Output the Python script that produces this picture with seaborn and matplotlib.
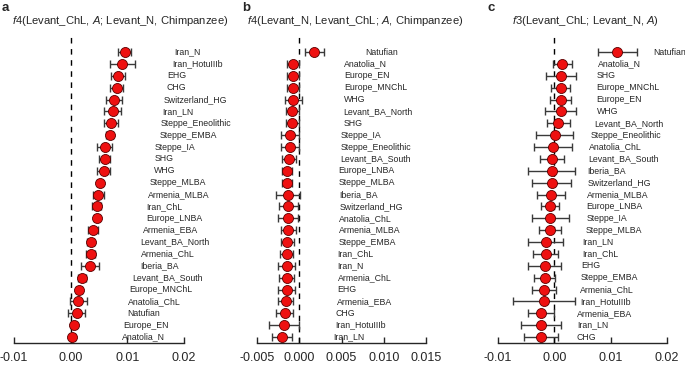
"""Three-panel f-statistics dot plot (Levant_ChL / Levant_N comparisons)."""

import matplotlib

matplotlib.use("Agg")
import matplotlib.pyplot as plt
import pandas as pd
import seaborn as sns

# ---- panel a: f4(Levant_ChL, A; Levant_N, Chimpanzee) ----
a_pops = [
    "Iran_N", "Iran_HotuIIIb", "EHG", "CHG", "Switzerland_HG", "Iran_LN",
    "Steppe_Eneolithic", "Steppe_EMBA", "Steppe_IA", "SHG", "WHG", "Steppe_MLBA",
    "Armenia_MLBA", "Iran_ChL", "Europe_LNBA", "Armenia_EBA", "Levant_BA_North",
    "Armenia_ChL", "Iberia_BA", "Levant_BA_South", "Europe_MNChL", "Anatolia_ChL",
    "Natufian", "Europe_EN", "Anatolia_N",
]
a_vals = [
    0.0095, 0.0091, 0.0083, 0.0081, 0.0076, 0.0074, 0.0071, 0.0069, 0.0060,
    0.0060, 0.0058, 0.0051, 0.0049, 0.0046, 0.0046, 0.0040, 0.0035, 0.0035,
    0.0034, 0.0020, 0.0015, 0.0013, 0.0011, 0.0005, 0.0003,
]
a_errs = [
    0.0012, 0.0022, 0.0012, 0.0011, 0.0014, 0.0015, 0.0012, 0.0006, 0.0013,
    0.0010, 0.0011, 0.0004, 0.0009, 0.0008, 0.0004, 0.0009, 0.0007, 0.0008,
    0.0016, 0.0007, 0.0005, 0.0015, 0.0015, 0.0005, 0.0005,
]

# ---- panel b: f4(Levant_N, Levant_ChL; A, Chimpanzee) ----
b_pops = [
    "Natufian", "Anatolia_N", "Europe_EN", "Europe_MNChL", "WHG",
    "Levant_BA_North", "SHG", "Steppe_IA", "Steppe_Eneolithic", "Levant_BA_South",
    "Europe_LNBA", "Steppe_MLBA", "Iberia_BA", "Switzerland_HG", "Anatolia_ChL",
    "Armenia_MLBA", "Steppe_EMBA", "Iran_ChL", "Iran_N", "Armenia_ChL", "EHG",
    "Armenia_EBA", "CHG", "Iran_HotuIIIb", "Iran_LN",
]
b_vals = [
    0.0018, -0.0007, -0.0007, -0.0007, -0.0007, -0.0008, -0.0008, -0.0011,
    -0.0011, -0.0012, -0.0014, -0.0014, -0.0013, -0.0013, -0.0013, -0.0013,
    -0.0014, -0.0015, -0.0015, -0.0015, -0.0015, -0.0016, -0.0017, -0.0018,
    -0.0020,
]
b_errs = [
    0.0011, 0.0007, 0.0007, 0.0007, 0.0010, 0.0008, 0.0008, 0.0011, 0.0011,
    0.0008, 0.0006, 0.0006, 0.0014, 0.0011, 0.0012, 0.0009, 0.0008, 0.0008,
    0.0010, 0.0009, 0.0010, 0.0009, 0.0010, 0.0018, 0.0012,
]

# ---- panel c: f3(Levant_ChL; Levant_N, A) ----
c_pops = [
    "Natufian", "Anatolia_N", "SHG", "Europe_MNChL", "Europe_EN", "WHG",
    "Levant_BA_North", "Steppe_Eneolithic", "Anatolia_ChL", "Levant_BA_South",
    "Iberia_BA", "Switzerland_HG", "Armenia_MLBA", "Europe_LNBA", "Steppe_IA",
    "Steppe_MLBA", "Iran_LN", "Iran_ChL", "EHG", "Steppe_EMBA", "Armenia_ChL",
    "Iran_HotuIIIb", "Armenia_EBA", "Iran_LN", "CHG",
]
c_vals = [
    0.0112, 0.0014, 0.0012, 0.0011, 0.0011, 0.0011, 0.0007, 0.0001, -0.0002,
    -0.0004, -0.0005, -0.0005, -0.0006, -0.0007, -0.0007, -0.0008, -0.0015,
    -0.0015, -0.0017, -0.0017, -0.0018, -0.0018, -0.0023, -0.0024, -0.0024,
]
c_errs = [
    0.0034, 0.0017, 0.0026, 0.0017, 0.0018, 0.0027, 0.0020, 0.0033, 0.0034,
    0.0022, 0.0041, 0.0034, 0.0025, 0.0016, 0.0033, 0.0019, 0.0031, 0.0022,
    0.0029, 0.0019, 0.0021, 0.0055, 0.0023, 0.0035, 0.0030,
]

a_ticks = [-0.01, 0.0, 0.01, 0.02]
b_ticks = [-0.005, 0.0, 0.005, 0.010, 0.015]
c_ticks = [-0.01, 0.0, 0.01, 0.02]

a_title = r"$\it{f}$4(Levant_ChL, $\it{A}$; Levant_N, Chimpanzee)"
b_title = r"$\it{f}$4(Levant_N, Levant_ChL; $\it{A}$, Chimpanzee)"
c_title = r"$\it{f}$3(Levant_ChL; Levant_N, $\it{A}$)"

W, H = 685, 365


def _panel(fig, left_px, right_px, pops, vals, errs, ticks, label_off):
    df = pd.DataFrame({"pop": pops, "val": vals, "err": errs})
    df["row"] = range(len(df))
    top_px, bottom_px = 33, 343
    ax = fig.add_axes([
        left_px / W, 1 - bottom_px / H,
        (right_px - left_px) / W, (bottom_px - top_px) / H,
    ])
    ax.axvline(0, color="black", lw=1.0, linestyle=(0, (4, 4)), zorder=1)
    ax.errorbar(
        df["val"], df["row"], xerr=df["err"], fmt="none",
        ecolor="#3a3a3a", elinewidth=1.0, capsize=2.6, capthick=1.0, zorder=2,
    )
    sns.scatterplot(
        data=df, x="val", y="row", ax=ax, s=52, color="#ee1111",
        edgecolor="#5a0000", linewidth=0.6, zorder=3, legend=False,
    )
    for _, r in df.iterrows():
        ax.annotate(
            r["pop"], (r["val"], r["row"]), xytext=(label_off, 0),
            textcoords="offset pixels", ha="left", va="center",
            fontsize=6.3, annotation_clip=False,
        )
    ax.set_xlim(ticks[0], ticks[-1])
    ax.set_ylim(len(df) - 0.5, -1.6)
    ax.set_xticks(ticks)
    ax.set_xticklabels([f"{t:.3f}" if len(ticks) == 5 else f"{t:.2f}" for t in ticks])
    ax.set_yticks([])
    ax.set_xlabel("")
    ax.set_ylabel("")
    for side in ("top", "right", "left"):
        ax.spines[side].set_visible(False)
    ax.spines["bottom"].set_linewidth(1.0)
    ax.tick_params(axis="x", direction="in", length=4, width=1.0, pad=6.5, labelsize=9)
    ax.patch.set_alpha(0)
    return ax


def main() -> None:
    sns.set_theme(style="ticks")
    plt.rcParams["font.family"] = ["Liberation Sans", "DejaVu Sans"]
    plt.rcParams["mathtext.fontset"] = "custom"
    plt.rcParams["mathtext.rm"] = "Liberation Sans"
    plt.rcParams["mathtext.it"] = "Liberation Sans:italic"
    plt.rcParams["axes.unicode_minus"] = True

    fig = plt.figure(figsize=(W / 100, H / 100), dpi=100)
    _panel(fig, 14, 184, a_pops, a_vals, a_errs, a_ticks, 50)
    _panel(fig, 257, 426, b_pops, b_vals, b_errs, b_ticks, 51)
    _panel(fig, 498, 667, c_pops, c_vals, c_errs, c_ticks, 36)

    for x, letter in [(2, "a"), (242, "b"), (488, "c")]:
        fig.text(x / W, 1 - 8 / H, letter, fontsize=9.5, weight="bold",
                 ha="left", va="center")
    for x, title in [(12, a_title), (247, b_title), (512, c_title)]:
        fig.text(x / W, 1 - 21 / H, title, fontsize=8.1, ha="left", va="center")

    fig.savefig("out.png", dpi=100)
    plt.close(fig)


if __name__ == "__main__":
    main()
